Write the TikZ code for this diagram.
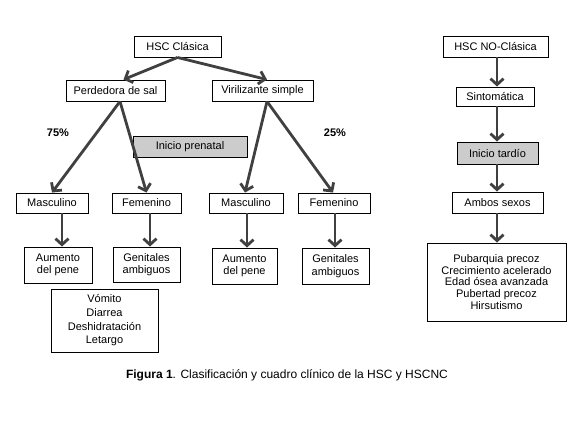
\documentclass[tikz,border=0pt]{standalone}
\usepackage{fontspec}
\setmainfont{Liberation Sans}
\usepackage{tikz}
\usetikzlibrary{arrows.meta, positioning, calc}
\tikzset{
  hsc box/.style={
    rectangle, draw=black, line width=0.9pt, fill=white,
    minimum height=21pt, inner sep=1pt, align=center,
    font=\fontsize{11}{12.5}\selectfont
  },
  hsc shaded/.style={
    hsc box, fill=black!20
  },
  hsc arrow/.style={
    -{Straight Barb[length=6pt,width=13pt]}, line width=2.8pt, draw=black!75
  },
  hsc pct/.style={
    font=\fontsize{11}{12.5}\selectfont\bfseries, inner sep=0pt
  }
}

\begin{document}
\begin{tikzpicture}[x=1pt, y=-1pt]
\useasboundingbox (0,0) rectangle (567,421);

% ====== HSC Clasica ======
\node[hsc box, minimum width=87pt] (clas) at (177.5,46.5) {HSC Clásica};
\node[hsc box, minimum width=99pt] (perd) at (115.5,90.5) {Perdedora de sal};
\node[hsc box, minimum width=101pt] (viri) at (262.5,90.5) {Virilizante simple};
\node[hsc shaded, minimum width=114pt] (pren) at (190,146.5) {Inicio prenatal};
\node[hsc pct] (p75) at (58,133) {75\%};
\node[hsc pct] (p25) at (335,133) {25\%};

% -- sexo --
\node[hsc box, minimum width=72pt, minimum height=20pt] (masc1) at (52,203) {Masculino};
\node[hsc box, minimum width=69pt, minimum height=20pt] (fem1) at (146.5,203) {Femenino};
\node[hsc box, minimum width=74pt, minimum height=20pt] (masc2) at (246,203) {Masculino};
\node[hsc box, minimum width=72pt, minimum height=20pt] (fem2) at (334,203) {Femenino};

% -- cuadro clinico --
\node[hsc box, minimum width=68pt, minimum height=36pt] (aum1) at (58,265) {Aumento\\del pene};
\node[hsc box, minimum width=67pt, minimum height=35pt] (gen1) at (146.5,264.5) {Genitales\\ambiguos};
\node[hsc box, minimum width=65pt, minimum height=36pt] (aum2) at (244.5,266) {Aumento\\del pene};
\node[hsc box, minimum width=67pt, minimum height=36pt] (gen2) at (335.5,266) {Genitales\\ambiguos};
\node[hsc box, minimum width=107pt, minimum height=63pt,
  font=\fontsize{11}{13.7}\selectfont] (vom) at (104.5,320.5)
  {Vómito\\Diarrea\\Deshidratación\\Letargo};

\draw[hsc arrow] (clas.south) -- ([xshift=8pt]perd.north);
\draw[hsc arrow] (clas.south) -- ([xshift=4.5pt]viri.north);
\draw[hsc arrow] ([xshift=4.5pt]perd.south) -- (masc1.north);
\draw[hsc arrow] ([xshift=4.5pt]perd.south) -- (fem1.north);
\draw[hsc arrow] ([xshift=4.5pt]viri.south) -- ([xshift=-1pt]masc2.north);
\draw[hsc arrow] ([xshift=4.5pt]viri.south) -- ([xshift=-1pt]fem2.north);
\draw[hsc arrow] ([xshift=10pt]masc1.south) -- ([xshift=4pt]aum1.north);
\draw[hsc arrow] ([xshift=3.5pt]fem1.south) -- ([xshift=3.5pt]gen1.north);
\draw[hsc arrow] ([xshift=1pt]masc2.south) -- ([xshift=2.5pt]aum2.north);
\draw[hsc arrow] ([xshift=1pt]fem2.south) -- ([xshift=-0.5pt]gen2.north);

% ====== HSC NO-Clasica ======
\node[hsc box, minimum width=105pt] (nocl) at (495.5,46.5) {HSC NO-Clásica};
\node[hsc box, minimum width=78pt, minimum height=19pt] (sint) at (495,96.5) {Sintomática};
\node[hsc shaded, minimum width=81pt, minimum height=22pt] (tard) at (497.5,153) {Inicio tardío};
\node[hsc box, minimum width=91pt] (ambo) at (497.5,202.5) {Ambos sexos};
\node[hsc box, minimum width=139pt, minimum height=78pt,
  font=\fontsize{11}{11.7}\selectfont] (sint2) at (496.5,282)
  {Pubarquia precoz\\Crecimiento acelerado\\Edad ósea avanzada\\Pubertad precoz\\Hirsutismo};

\draw[hsc arrow] ([xshift=1.5pt]nocl.south) -- ([xshift=2pt]sint.north);
\draw[hsc arrow] ([xshift=2pt]sint.south) -- ([xshift=-0.5pt]tard.north);
\draw[hsc arrow] ([xshift=-0.5pt]tard.south) -- ([xshift=-0.5pt]ambo.north);
\draw[hsc arrow] ([xshift=-0.5pt]ambo.south) -- ([xshift=0.5pt]sint2.north);

% ====== caption ======
\node[font=\fontsize{12}{14}\selectfont, inner sep=0pt] (cap) at (287,375)
  {\textbf{Figura 1}. Clasificación y cuadro clínico de la HSC y HSCNC};

\end{tikzpicture}
\end{document}
